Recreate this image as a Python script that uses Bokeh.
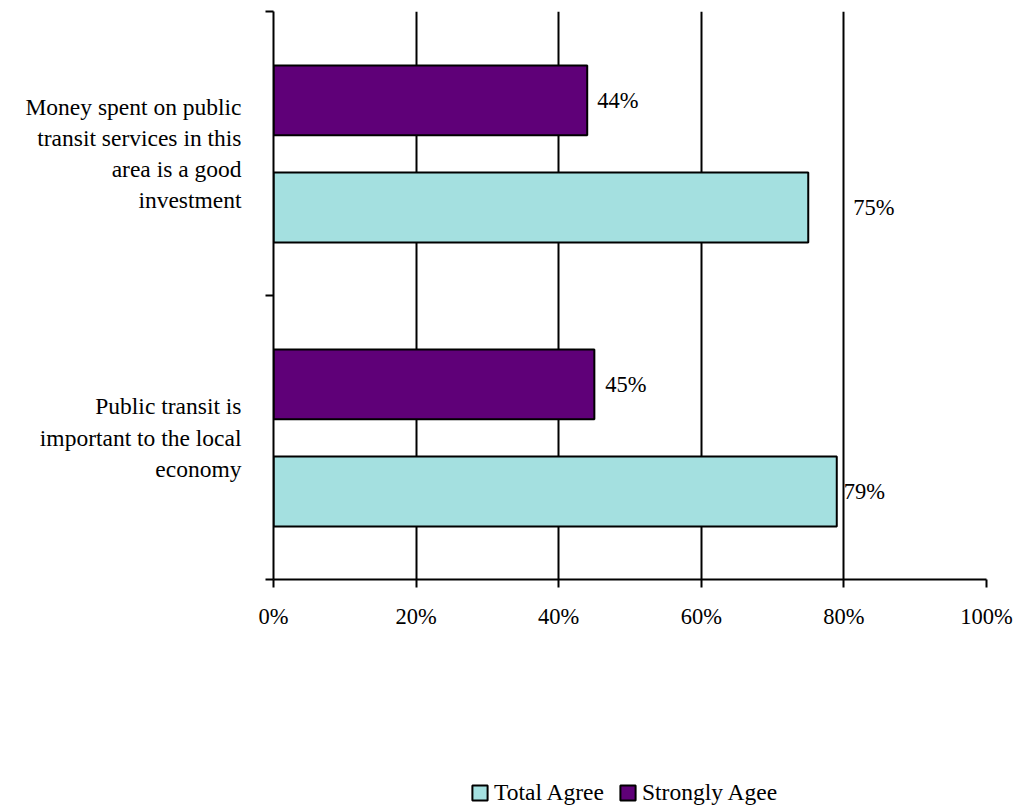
from bokeh.plotting import figure
from bokeh.layouts import column
from bokeh.models import Range1d, FixedTicker, Label, Legend, LegendItem
from bokeh.embed import file_html
from bokeh.resources import INLINE

# ---- data ----
categories = [
    "Money spent on public\ntransit services in this\narea is a good\ninvestment",
    "Public transit is\nimportant to the local\neconomy",
]
total_agree = [75, 79]
strongly_agree = [44, 45]
x_ticks = [0, 20, 40, 60, 80, 100]
series_names = ["Total Agree", "Strongly Agee"]

# ---- styling ----
PURPLE = "#5F0078"
CYAN = "#A4E0E0"
FONT = "Liberation Serif"
cat_pos = [1.5, 0.5]          # category centres (top category first)
cat_bounds = [0, 1, 2]
purple_off = 0.187
cyan_off = -0.19
bar_h = 0.246
value_label_dx = [[10, 45], [11, 7]]        # [strongly, total] px offsets per category

p = figure(width=1014, height=760, output_backend="svg", toolbar_location=None,
           x_range=Range1d(0, 100), y_range=Range1d(0, 2),
           min_border_left=273, min_border_right=28, min_border_top=11,
           min_border_bottom=181)
p.outline_line_color = None

sa_y = [c + purple_off for c in cat_pos]
ta_y = [c + cyan_off for c in cat_pos]

p.hbar(y=ta_y, left=0, right=total_agree, height=bar_h,
       fill_color=CYAN, line_color="black", line_width=2)
p.hbar(y=sa_y, left=0, right=strongly_agree, height=bar_h,
       fill_color=PURPLE, line_color="black", line_width=2)

# grid
p.ygrid.visible = False
p.xgrid.ticker = FixedTicker(ticks=x_ticks[1:])
p.xgrid.grid_line_color = "black"
p.xgrid.grid_line_width = 2
p.xgrid.grid_line_alpha = 1

# x axis
xa = p.xaxis[0]
xa.ticker = FixedTicker(ticks=x_ticks)
xa.major_label_overrides = {t: f"{t}%" for t in x_ticks}
xa.axis_line_width = 2
xa.axis_line_color = "black"
xa.major_tick_line_width = 2
xa.major_tick_line_color = "black"
xa.major_tick_out = 8
xa.major_tick_in = 0
xa.minor_tick_line_color = None
xa.major_label_text_font = FONT
xa.major_label_text_font_size = "22.5px"
xa.major_label_text_color = "black"
xa.major_label_standoff = 16

# y axis (category labels at centres, tick marks at boundaries)
ya = p.yaxis[0]
ya.ticker = FixedTicker(ticks=cat_pos, minor_ticks=cat_bounds)
ya.major_label_overrides = {cat_pos[i]: categories[i] for i in range(len(categories))}
ya.axis_line_width = 2
ya.axis_line_color = "black"
ya.major_tick_line_color = None
ya.major_tick_out = 0
ya.major_tick_in = 0
ya.minor_tick_line_color = "black"
ya.minor_tick_line_width = 2
ya.minor_tick_out = 8
ya.minor_tick_in = 0
ya.major_label_text_font = FONT
ya.major_label_text_font_size = "23.5px"
ya.major_label_text_color = "black"
ya.major_label_text_align = "right"
ya.major_label_standoff = 24

# value labels
for ci in range(len(cat_pos)):
    p.add_layout(Label(x=strongly_agree[ci], y=sa_y[ci], text=f"{strongly_agree[ci]}%",
                       x_offset=value_label_dx[ci][0], text_align="left",
                       text_baseline="middle", text_font=FONT,
                       text_font_size="22.5px", text_color="black"))
    p.add_layout(Label(x=total_agree[ci], y=ta_y[ci], text=f"{total_agree[ci]}%",
                       x_offset=value_label_dx[ci][1], text_align="left",
                       text_baseline="middle", text_font=FONT,
                       text_font_size="22.5px", text_color="black"))

# legend strip (its frame is aligned with the main frame by the column layout)
lg = figure(width=1014, height=48, output_backend="svg", toolbar_location=None,
            x_range=Range1d(0, 1), y_range=Range1d(0, 1),
            x_axis_location=None, y_axis_location=None, min_border=0)
lg.outline_line_color = None
lg.xgrid.visible = False
lg.ygrid.visible = False
# hidden swatch renderers: they only feed the legend
l_ta = lg.hbar(y=[0.5], left=[0], right=[1], height=0.5,
               fill_color=CYAN, line_color="black", line_width=2, visible=False)
l_sa = lg.hbar(y=[0.5], left=[0], right=[1], height=0.5,
               fill_color=PURPLE, line_color="black", line_width=2, visible=False)
legend = Legend(items=[LegendItem(label=series_names[0], renderers=[l_ta]),
                       LegendItem(label=series_names[1], renderers=[l_sa])],
                orientation="horizontal", location=(197, 2),
                padding=0, margin=0, spacing=14,
                glyph_width=19, glyph_height=19, label_standoff=5,
                label_height=19, label_text_font=FONT,
                label_text_font_size="23.5px", label_text_color="black",
                inactive_fill_alpha=0,
                border_line_color=None, background_fill_alpha=0)
lg.add_layout(legend, "center")

layout = column(p, lg, spacing=0)
open("out.html", "w").write(file_html(layout, INLINE))
